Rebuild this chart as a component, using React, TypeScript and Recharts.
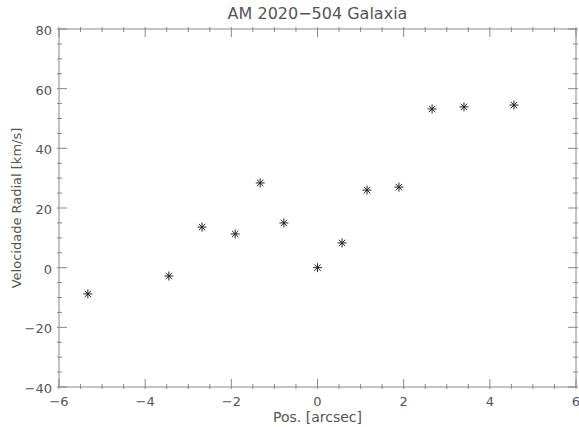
import { Scatter, ScatterChart, XAxis, YAxis } from "recharts"

// position along the slit (arcsec) and radial velocity (km/s)
const positions = [-5.33, -3.45, -2.68, -1.91, -1.33, -0.78, 0.0, 0.57, 1.15, 1.89, 2.66, 3.4, 4.56]
const velocities = [-8.8, -2.8, 13.6, 11.3, 28.4, 15.0, 0.0, 8.3, 26.0, 27.0, 53.2, 53.9, 54.5]

const xTicks = [
  -6, -5.5, -5, -4.5, -4, -3.5, -3, -2.5, -2, -1.5, -1, -0.5, 0, 0.5, 1, 1.5, 2, 2.5, 3, 3.5, 4, 4.5, 5, 5.5, 6,
]
const yTicks = [
  -40, -35, -30, -25, -20, -15, -10, -5, 0, 5, 10, 15, 20, 25, 30, 35, 40, 45, 50, 55, 60, 65, 70, 75, 80,
]

const points = positions.map((x, i) => ({ x, y: velocities[i] }))

const textColor = "#555"
const lineColor = "#888"
const font = "'DejaVu Sans', sans-serif"

const fmt = (v: number) => (v < 0 ? `\u2212${Math.abs(v)}` : `${v}`)

// ticks drawn inward, labels only on bottom and left
function makeTick(side: "bottom" | "top" | "left" | "right") {
  return (props: any) => {
    const { x, y, payload } = props
    const v = payload.value
    const major = side === "bottom" || side === "top" ? v % 2 === 0 : v % 20 === 0
    const len = major ? 10 : 5
    if (side === "bottom") {
      return (
        <g>
          <line x1={x} y1={y} x2={x} y2={y - len} stroke={lineColor} />
          {major && (
            <text x={x} y={y + 17} textAnchor="middle" fill={textColor} fontSize={13} fontFamily={font}>
              {fmt(v)}
            </text>
          )}
        </g>
      )
    }
    if (side === "top") return <line x1={x} y1={y} x2={x} y2={y + len} stroke={lineColor} />
    if (side === "left") {
      return (
        <g>
          <line x1={x} y1={y} x2={x + len} y2={y} stroke={lineColor} />
          {major && (
            <text x={x - 5} y={y + 6} textAnchor="end" fill={textColor} fontSize={13} fontFamily={font}>
              {fmt(v)}
            </text>
          )}
        </g>
      )
    }
    return <line x1={x} y1={y} x2={x - len} y2={y} stroke={lineColor} />
  }
}

const Asterisk = (props: any) => {
  const { cx, cy } = props
  const r = 4.5
  const d = 3.2
  return (
    <g stroke="#222" strokeWidth={1}>
      <line x1={cx - r} y1={cy} x2={cx + r} y2={cy} />
      <line x1={cx} y1={cy - r} x2={cx} y2={cy + r} />
      <line x1={cx - d} y1={cy - d} x2={cx + d} y2={cy + d} />
      <line x1={cx - d} y1={cy + d} x2={cx + d} y2={cy - d} />
    </g>
  )
}

const Nothing = () => <g />

export default function App() {
  return (
    <div style={{ position: "absolute", left: 0, top: 0, width: 579, height: 427, background: "#fff" }}>
      <ScatterChart width={579} height={427} margin={{ top: 28, right: 2, bottom: 39, left: 58 }}>
        <XAxis
          xAxisId="b"
          type="number"
          dataKey="x"
          domain={[-6, 6]}
          ticks={xTicks}
          interval={0}
          height={1}
          tickSize={0}
          tickLine={false}
          axisLine={{ stroke: lineColor }}
          tick={makeTick("bottom")}
          allowDataOverflow
        />
        <XAxis
          xAxisId="t"
          orientation="top"
          type="number"
          dataKey="x"
          domain={[-6, 6]}
          ticks={xTicks}
          interval={0}
          height={1}
          tickSize={0}
          tickLine={false}
          axisLine={{ stroke: lineColor }}
          tick={makeTick("top")}
          allowDataOverflow
        />
        <YAxis
          yAxisId="l"
          type="number"
          dataKey="y"
          domain={[-40, 80]}
          ticks={yTicks}
          interval={0}
          width={1}
          tickSize={0}
          tickLine={false}
          axisLine={{ stroke: lineColor }}
          tick={makeTick("left")}
          allowDataOverflow
        />
        <YAxis
          yAxisId="r"
          orientation="right"
          type="number"
          dataKey="y"
          domain={[-40, 80]}
          ticks={yTicks}
          interval={0}
          width={1}
          tickSize={0}
          tickLine={false}
          axisLine={{ stroke: lineColor }}
          tick={makeTick("right")}
          allowDataOverflow
        />
        <Scatter data={points} xAxisId="t" yAxisId="r" shape={<Nothing />} isAnimationActive={false} />
        <Scatter data={points} xAxisId="b" yAxisId="l" shape={<Asterisk />} isAnimationActive={false} />
      </ScatterChart>
      <div
        style={{
          position: "absolute",
          left: 59,
          width: 517,
          top: 409,
          textAlign: "center",
          fontFamily: font,
          fontSize: 14,
          lineHeight: "16px",
          color: textColor,
        }}
      >
        Pos. [arcsec]
      </div>
      <div
        style={{
          position: "absolute",
          left: 59,
          width: 517,
          top: 4,
          textAlign: "center",
          fontFamily: font,
          fontSize: 16,
          color: textColor,
        }}
      >
        AM 2020{"\u2212"}504 Galaxia
      </div>
      <div
        style={{
          position: "absolute",
          left: 16,
          top: 208,
          transform: "translate(-50%, -50%) rotate(-90deg)",
          whiteSpace: "nowrap",
          fontFamily: font,
          fontSize: 13,
          color: textColor,
        }}
      >
        Velocidade Radial [km/s]
      </div>
    </div>
  )
}
